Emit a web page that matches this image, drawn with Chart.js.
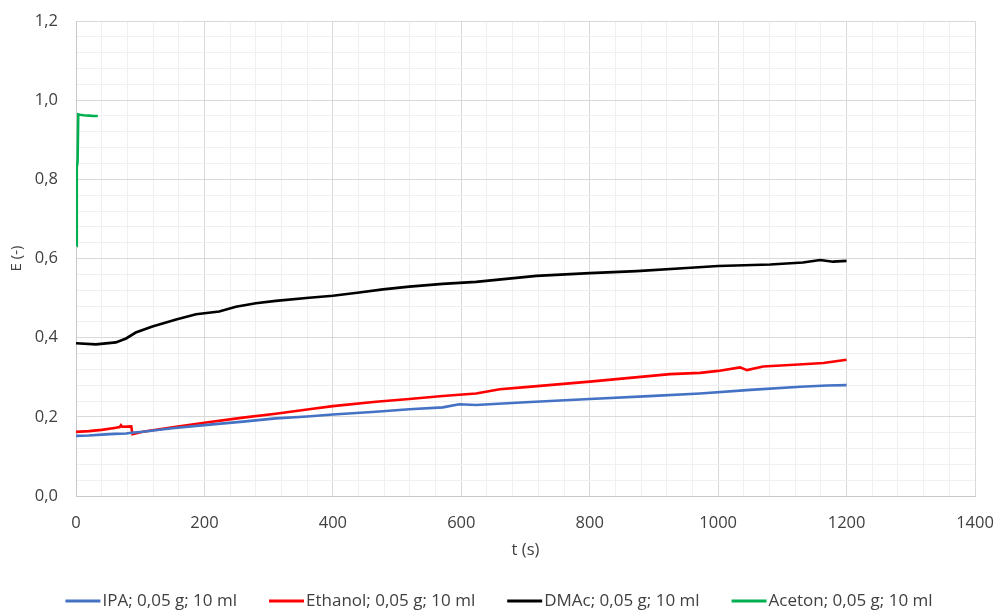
<!DOCTYPE html>
<html>
<head>
<meta charset="utf-8">
<script src="https://cdn.jsdelivr.net/npm/chart.js@4/dist/chart.umd.min.js"></script>
<style>
  html, body { margin: 0; padding: 0; background: #ffffff; }
  #wrap { width: 996px; height: 612px; }
</style>
</head>
<body>
<div id="wrap"><canvas id="chart" width="996" height="612"></canvas></div>
<script>
// Extinction E over time t for four solvents (0,05 g; 10 ml)
const seriesLabels = ['IPA; 0,05 g; 10 ml', 'Ethanol; 0,05 g; 10 ml', 'DMAc; 0,05 g; 10 ml', 'Aceton; 0,05 g; 10 ml'];
const seriesColors = ['#4472C4', '#FF0000', '#000000', '#00B050'];

const ipaTime = [0, 20, 40, 60, 78, 86, 104, 150, 200, 260, 311, 360, 400, 467, 519, 571, 597, 623, 700, 800, 900, 972, 1050, 1128, 1170, 1200];
const ipaE    = [0.152, 0.153, 0.155, 0.157, 0.158, 0.160, 0.1625, 0.171, 0.179, 0.188, 0.196, 0.201, 0.206, 0.213, 0.219, 0.224, 0.2317, 0.230, 0.237, 0.245, 0.253, 0.259, 0.268, 0.276, 0.279, 0.280];

const ethanolTime = [0, 20, 40, 60, 68, 70, 72, 86, 88, 104, 156, 200, 260, 311, 363, 400, 467, 519, 571, 623, 660, 700, 800, 925, 972, 1000, 1034, 1045, 1070, 1132, 1164, 1200];
const ethanolE    = [0.162, 0.164, 0.167, 0.172, 0.174, 0.179, 0.175, 0.176, 0.156, 0.1625, 0.175, 0.185, 0.198, 0.208, 0.219, 0.227, 0.238, 0.245, 0.2527, 0.259, 0.2695, 0.275, 0.289, 0.308, 0.311, 0.316, 0.325, 0.318, 0.327, 0.333, 0.336, 0.344];

const dmacTime = [0, 31, 62, 78, 93, 119, 156, 187, 223, 249, 280, 311, 363, 400, 441, 478, 519, 571, 623, 717, 800, 873, 951, 1000, 1081, 1132, 1159, 1179, 1200];
const dmacE    = [0.386, 0.383, 0.388, 0.398, 0.413, 0.428, 0.446, 0.459, 0.466, 0.478, 0.487, 0.493, 0.501, 0.506, 0.514, 0.522, 0.529, 0.536, 0.541, 0.556, 0.563, 0.568, 0.576, 0.581, 0.585, 0.590, 0.596, 0.592, 0.594];

const acetonTime = [1, 1.2, 2.5, 3.5, 6, 12, 20, 28, 34];
const acetonE    = [0.632, 0.83, 0.845, 0.964, 0.963, 0.962, 0.961, 0.960, 0.960];

// Axis ranges and label steps
const xMin = 0, xMax = 1400, xMajor = 200, xMinor = 40;
const yMin = 0, yMax = 1.2, yMajor = 0.2, yMinor = 0.04;
const xTitle = 't (s)';
const yTitle = 'E (-)';

const FONT = '"Open Sans", "Liberation Sans", sans-serif';
const TEXT = '#404040';

function toPoints(ts, es) { return ts.map((t, i) => ({ x: t, y: es[i] })); }
function isMajor(v, step) { const r = v / step; return Math.abs(r - Math.round(r)) < 1e-6; }

const seriesData = [
  toPoints(ipaTime, ipaE),
  toPoints(ethanolTime, ethanolE),
  toPoints(dmacTime, dmacE),
  toPoints(acetonTime, acetonE)
];

// Legend drawn as a row of line samples below the axis title
const lineLegend = {
  id: 'lineLegend',
  afterDraw(chart) {
    const ctx = chart.ctx;
    ctx.save();
    ctx.font = '17px ' + FONT;
    const sample = 35, gap = 2, spacing = 32;
    const items = chart.data.datasets.map(ds => ({
      label: ds.label, color: ds.borderColor,
      w: sample + gap + ctx.measureText(ds.label).width
    }));
    const total = items.reduce((a, it) => a + it.w, 0) + spacing * (items.length - 1);
    let x = (chart.width - total) / 2 + 1;
    const y = 601;
    items.forEach(it => {
      ctx.strokeStyle = it.color;
      ctx.lineWidth = 3;
      ctx.beginPath();
      ctx.moveTo(x, y);
      ctx.lineTo(x + sample, y);
      ctx.stroke();
      ctx.fillStyle = TEXT;
      ctx.textAlign = 'left';
      ctx.textBaseline = 'middle';
      ctx.fillText(it.label, x + sample + gap, y);
      x += it.w + spacing;
    });
    ctx.restore();
  }
};

new Chart(document.getElementById('chart'), {
  type: 'scatter',
  data: {
    datasets: seriesData.map((d, i) => ({
      label: seriesLabels[i],
      data: d,
      showLine: true,
      borderColor: seriesColors[i],
      backgroundColor: seriesColors[i],
      borderWidth: 2.6,
      pointRadius: 0,
      pointHoverRadius: 0,
      tension: 0
    }))
  },
  options: {
    responsive: false,
    animation: false,
    layout: { padding: { top: 21, right: 21, bottom: 40, left: 0 } },
    plugins: {
      legend: { display: false },
      tooltip: { enabled: false }
    },
    scales: {
      x: {
        type: 'linear',
        min: xMin, max: xMax,
        afterFit(scale) { scale.height = 76; scale.paddingLeft = 0; scale.paddingRight = 0; },
        ticks: {
          stepSize: xMinor,
          autoSkip: false,
          maxRotation: 0,
          padding: 17,
          color: TEXT,
          font: { family: FONT, size: 16.5 },
          callback: v => isMajor(v, xMajor) ? String(Math.round(v)) : ''
        },
        grid: {
          drawTicks: false,
          lineWidth: 1,
          color: c => isMajor(c.tick.value, xMajor) ? '#d9d9d9' : '#f0f0f0'
        },
        border: { display: true, color: '#c8c8c8', width: 1 },
        title: {
          display: true, text: xTitle, color: TEXT,
          font: { family: FONT, size: 16.5 },
          padding: { top: 0, bottom: 12 }
        }
      },
      y: {
        type: 'linear',
        min: yMin, max: yMax,
        afterFit(scale) { scale.width = 76; scale.paddingTop = 0; scale.paddingBottom = 0; },
        ticks: {
          stepSize: yMinor,
          autoSkip: false,
          maxTicksLimit: 100,
          padding: 18,
          color: TEXT,
          font: { family: FONT, size: 16.5 },
          callback: v => isMajor(v, yMajor) ? v.toFixed(1).replace('.', ',') : ''
        },
        grid: {
          drawTicks: false,
          lineWidth: 1,
          color: c => isMajor(c.tick.value, yMajor) ? '#d9d9d9' : '#f0f0f0'
        },
        border: { display: true, color: '#c8c8c8', width: 1 },
        title: {
          display: true, text: yTitle, color: TEXT,
          font: { family: FONT, size: 15 },
          padding: { top: 8, bottom: 0 }
        }
      }
    }
  },
  plugins: [lineLegend]
});
</script>
</body>
</html>
